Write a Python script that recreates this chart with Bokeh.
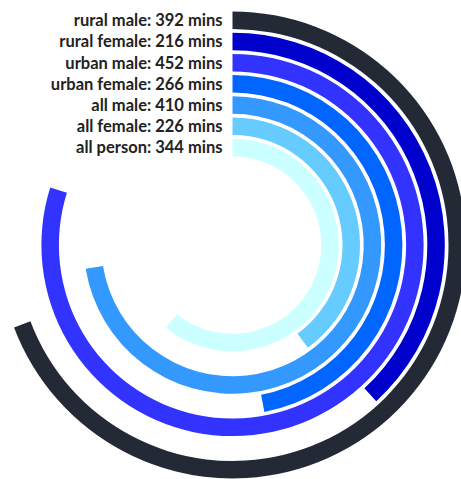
import math
from bokeh.plotting import figure
from bokeh.models import Range1d, ColumnDataSource
from bokeh.core.properties import value
from bokeh.embed import file_html
from bokeh.resources import INLINE

# data
categories = ["rural male", "rural female", "urban male", "urban female",
              "all male", "all female", "all person"]
minutes = [392, 216, 452, 266, 410, 226, 344]
colors = ["#232a35", "#0000cc", "#3333ff", "#0066ff", "#3399ff", "#66ccff", "#ccffff"]
angle_max = 566  # minutes that make one full turn

W, H = 461, 479
cx, cy = 232, 244.5          # circle centre in picture pixels
R0, pitch, thick = 233.5, 21.2, 17.5

p = figure(width=W, height=H, output_backend="svg", toolbar_location=None,
           x_range=Range1d(-cx, W - cx), y_range=Range1d(cy - H, cy),
           x_axis_location=None, y_axis_location=None, min_border=0)
p.outline_line_color = None
p.grid.visible = False
p.background_fill_color = "white"
p.border_fill_color = "white"

n = len(categories)
outer = [R0 - pitch * i for i in range(n)]
inner = [r - thick for r in outer]
start = [math.pi / 2 - 2 * math.pi * v / angle_max for v in minutes]
end = [math.pi / 2] * n
src = ColumnDataSource(dict(x=[0] * n, y=[0] * n, inner=inner, outer=outer,
                            start=start, end=end, color=colors))
p.annular_wedge(x="x", y="y", inner_radius="inner", outer_radius="outer",
                start_angle="start", end_angle="end", direction="anticlock",
                fill_color="color", line_color=None, source=src)

labels = [f"{c}: {v} mins" for c, v in zip(categories, minutes)]
ty = [r - thick / 2 for r in outer]
p.text(x=[-10] * n, y=ty, text=labels, text_align="right", text_baseline="middle",
       text_font=value("Lato"), text_font_style="bold", text_font_size="16.5px",
       text_color="#222222")

open("out.html", "w").write(file_html(p, INLINE))
